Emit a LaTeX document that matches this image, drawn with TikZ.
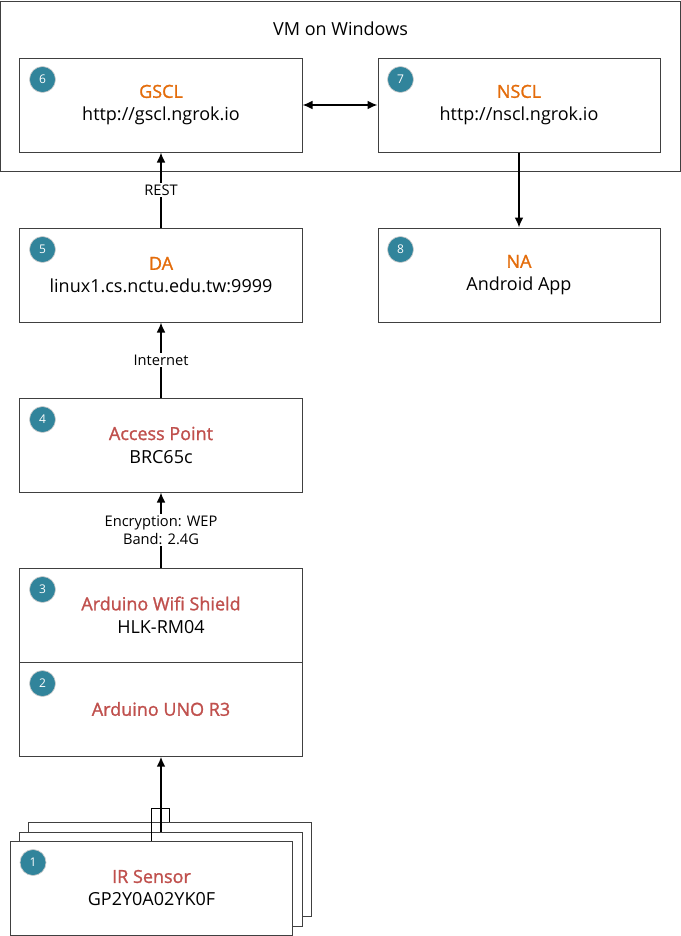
\documentclass[tikz,border=0pt]{standalone}
\usepackage{fontspec}
\setmainfont{Open Sans}
\newfontfamily\titlefont{Open Sans}[FakeBold=1.3]
\usetikzlibrary{arrows.meta,calc,positioning}
\definecolor{numteal}{RGB}{49,132,155}
\definecolor{titlered}{RGB}{192,80,77}
\definecolor{titleorange}{RGB}{228,108,10}
\tikzstyle{arrow} = [->,>={Latex[length=7.5pt,width=6.5pt]}, line width=1.1pt]
\tikzstyle{linklabel} = [fill=white, font=\fontsize{11}{13.5}\selectfont, inner sep=1.5pt, align=center]
\newcommand{\numbadge}[2]{\node[badge] (#1num) at ($(#1.north west)+(17.25pt,-16.5pt)$) {#2};}

\begin{document}
\begin{tikzpicture}[
            node distance=127.5pt,
            every node/.style={text centered, font=\fontsize{13.5}{17.25}\selectfont},
            process/.style={rectangle, draw=black!75, line width=0.75pt, fill=white, minimum width=211.5pt, minimum height=70.5pt, align=center, inner sep=0pt},
            vmbox/.style={rectangle, draw=black!75, line width=0.75pt, minimum width=509.25pt, minimum height=127.5pt},
            badge/.style={circle, fill=numteal, draw=black!20, line width=0.5pt, minimum size=19.5pt, inner sep=0pt, text=white, font=\fontsize{9}{10}\selectfont}
        ]
            \useasboundingbox (-120.75pt,78.75pt) rectangle (390pt,-623.25pt);

            % Nodes
            \node (vm) [vmbox] at (134.625pt,14.25pt) {};
            \node (vmtitle) at ($(vm.north)+(0,-21pt)$) {VM on Windows};
            \node (gscl) [process] at (0,0) {{\titlefont\color{titleorange}GSCL}\\http://gscl.ngrok.io};
            \node (nscl) [process, right of=gscl, node distance=268.5pt] {{\titlefont\color{titleorange}NSCL}\\http://nscl.ngrok.io};
            \node (da) [process, below of=gscl] {{\titlefont\color{titleorange}DA}\\linux1.cs.nctu.edu.tw:9999};
            \node (na) [process, below of=nscl] {{\titlefont\color{titleorange}NA}\\Android App};
            \node (ap) [process, below of=da] {{\titlefont\color{titlered}Access Point}\\BRC65c};
            \node (wifi) [process, below of=ap] {{\titlefont\color{titlered}Arduino Wifi Shield}\\HLK-RM04};
            \node (uno) [process, below of=wifi, node distance=70.5pt] {\titlefont\color{titlered}Arduino UNO R3};
            \node (sensorback) [process, below of=uno, xshift=6.75pt, yshift=7.5pt] {};
            \node (sensormid) [process, below of=uno] {};
            \node (sensor) [process, below of=uno, xshift=-7.1pt, yshift=-6.75pt] {{\titlefont\color{titlered}IR Sensor}\\GP2Y0A02YK0F};

            % Badges
            \numbadge{sensor}{1}
            \numbadge{uno}{2}
            \numbadge{wifi}{3}
            \numbadge{ap}{4}
            \numbadge{da}{5}
            \numbadge{gscl}{6}
            \numbadge{nscl}{7}
            \numbadge{na}{8}

            % Arrows
            \draw [arrow, <->] (gscl) -- (nscl);
            \draw [arrow] (da) -- node[linklabel] (restlabel) {REST} (gscl);
            \draw [arrow] (nscl) -- (na);
            \draw [arrow] (ap) -- node[linklabel] (netlabel) {Internet} (da);
            \draw [arrow] (wifi) -- node[linklabel] (wepla) {Encryption: WEP\\Band: 2.4G} (ap);
            \draw [arrow, line width=1.7pt] (sensormid) -- (uno);
            \draw [line width=0.75pt] (sensor.north) -- ++(0,24pt) -| (sensorback.north);
        \end{tikzpicture}
\end{document}
